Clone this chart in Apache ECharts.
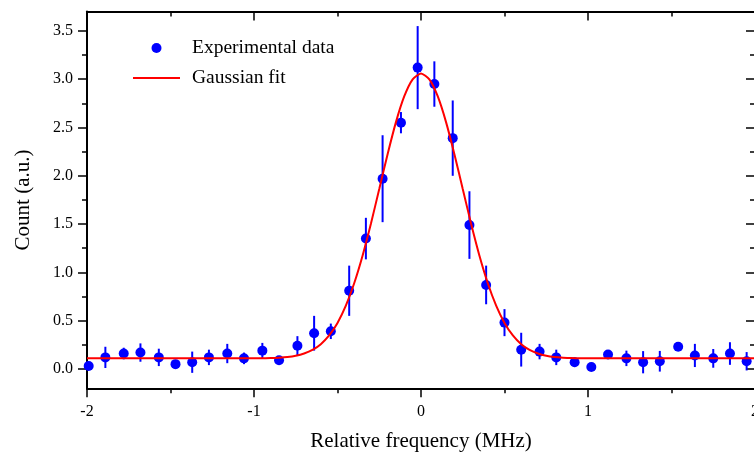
<!DOCTYPE html>
<html><head><meta charset="utf-8">
<script src="https://cdn.jsdelivr.net/npm/echarts@6/dist/echarts.min.js"></script>
<style>html,body{margin:0;padding:0;background:#fff}#c{width:754px;height:455px}</style>
</head><body><div id="c"></div>
<script>
var xData = [-1.99, -1.89, -1.78, -1.68, -1.57, -1.47, -1.37, -1.27, -1.16, -1.06, -0.95, -0.85, -0.74, -0.64, -0.54, -0.43, -0.33, -0.23, -0.12, -0.02, 0.08, 0.19, 0.29, 0.39, 0.50, 0.60, 0.71, 0.81, 0.92, 1.02, 1.12, 1.23, 1.33, 1.43, 1.54, 1.64, 1.75, 1.85, 1.95];
var yData = [0.03, 0.12, 0.16, 0.17, 0.12, 0.05, 0.07, 0.12, 0.16, 0.11, 0.19, 0.09, 0.24, 0.37, 0.39, 0.81, 1.35, 1.97, 2.55, 3.12, 2.95, 2.39, 1.49, 0.87, 0.48, 0.20, 0.18, 0.12, 0.07, 0.02, 0.15, 0.11, 0.07, 0.08, 0.23, 0.14, 0.11, 0.16, 0.08];
var yErr = [0.03, 0.11, 0.06, 0.095, 0.09, 0.045, 0.11, 0.08, 0.10, 0.06, 0.08, 0.04, 0.10, 0.18, 0.08, 0.26, 0.215, 0.45, 0.11, 0.43, 0.235, 0.39, 0.35, 0.20, 0.14, 0.175, 0.08, 0.08, 0.05, 0, 0.04, 0.08, 0.115, 0.107, 0, 0.12, 0.097, 0.117, 0.095];
var fitX = [-2.0, -1.5, -1.0, -0.9, -0.85, -0.8, -0.75, -0.7, -0.65, -0.6, -0.55, -0.5, -0.45, -0.4, -0.35, -0.3, -0.25, -0.2, -0.15, -0.1, -0.05, 0.0, 0.05, 0.1, 0.15, 0.2, 0.25, 0.3, 0.35, 0.4, 0.45, 0.5, 0.55, 0.6, 0.65, 0.7, 0.75, 0.8, 0.85, 0.9, 1.0, 1.5, 2.0];
var fitY = [0.11, 0.11, 0.11, 0.113, 0.117, 0.124, 0.137, 0.160, 0.197, 0.257, 0.347, 0.477, 0.656, 0.888, 1.173, 1.504, 1.863, 2.224, 2.556, 2.824, 2.999, 3.06, 2.999, 2.824, 2.556, 2.224, 1.863, 1.504, 1.173, 0.888, 0.656, 0.477, 0.347, 0.257, 0.197, 0.160, 0.137, 0.124, 0.117, 0.113, 0.11, 0.11, 0.11];
var xTicks = [-2, -1, 0, 1, 2];
var yMajor = [0, 0.5, 1.0, 1.5, 2.0, 2.5, 3.0, 3.5];
var yMinor = [0.25, 0.75, 1.25, 1.75, 2.25, 2.75, 3.25];
var seriesNames = ['Experimental data', 'Gaussian fit'];
var xTitle = 'Relative frequency (MHz)';
var yTitle = 'Count (a.u.)';

var FONT = '"Liberation Serif", "DejaVu Serif", serif';
var BLUE = '#0000ff', RED = '#ff0000';

var points = xData.map(function (x, i) { return [x, yData[i]]; });
var bars = xData.map(function (x, i) { return [x, yData[i], yErr[i]]; });
var fit = fitX.map(function (x, i) { return [x, fitY[i]]; });

var gridRect = { left: 87, right: -1, top: 11.6, bottom: 66.7, containLabel: false, outerBoundsMode: 'none' };
var lineSt = { color: '#000', width: 2 };
var tickSt = { color: '#000', width: 1.5 };

function xAx(pos, gi, show) {
  return {
    type: 'value', gridIndex: gi, min: -2, max: 2, interval: 1, position: pos,
    show: show,
    axisLine: { show: true, onZero: false, lineStyle: lineSt },
    axisTick: { show: true, inside: pos === 'top', length: 9, lineStyle: tickSt },
    minorTick: { show: true, splitNumber: 2, length: 5, lineStyle: tickSt },
    axisLabel: pos === 'bottom' ? {
      show: true, margin: 15, color: '#000', fontFamily: FONT, fontSize: 16,
      formatter: function (v) { return xTicks.indexOf(v) >= 0 ? String(v) : ''; }
    } : { show: false },
    splitLine: { show: false },
    name: pos === 'bottom' ? xTitle : '',
    nameLocation: 'middle', nameGap: 43,
    nameTextStyle: { color: '#000', fontFamily: FONT, fontSize: 21 }
  };
}
function yAx(pos, gi, vals, len, labels, line) {
  return {
    type: 'value', gridIndex: gi, min: -0.2, max: 3.7, position: pos,
    axisLine: { show: line, onZero: false, lineStyle: lineSt },
    axisTick: { show: true, inside: pos === 'right', length: len, customValues: vals, lineStyle: tickSt },
    minorTick: { show: false },
    axisLabel: labels ? {
      show: true, margin: 14, color: '#000', fontFamily: FONT, fontSize: 16,
      customValues: vals,
      formatter: function (v) { return v.toFixed(1); }
    } : { show: false },
    splitLine: { show: false },
    name: labels ? yTitle : '',
    nameLocation: 'middle', nameGap: 53, nameRotate: 90,
    nameTextStyle: { color: '#000', fontFamily: FONT, fontSize: 21 }
  };
}

var chart = echarts.init(document.getElementById('c'), null, { renderer: 'canvas' });
chart.setOption({
  backgroundColor: '#fff',
  animation: false,
  grid: [Object.assign({}, gridRect), Object.assign({}, gridRect)],
  xAxis: [xAx('bottom', 0, true), xAx('top', 0, true), xAx('bottom', 1, false)],
  yAxis: [
    yAx('left', 0, yMajor, 9, true, true),
    yAx('right', 0, yMajor, 9, false, true),
    yAx('left', 1, yMinor, 5, false, false),
    yAx('right', 1, yMinor, 5, false, false)
  ],
  legend: {
    orient: 'vertical', left: 133, top: 38, padding: 0,
    itemWidth: 47, itemHeight: 10, itemGap: 10,
    data: [
      { name: seriesNames[0], icon: 'circle' },
      { name: seriesNames[1], icon: 'path://M0,0 L47,0 L47,2 L0,2 Z' }
    ],
    textStyle: { color: '#000', fontFamily: FONT, fontSize: 19.5, lineHeight: 20, padding: [0, 0, 0, 7] }
  },
  series: [
    {
      type: 'custom', xAxisIndex: 0, yAxisIndex: 0, z: 2,
      encode: { x: 0, y: 1 },
      data: bars,
      renderItem: function (params, api) {
        var x = api.value(0), y = api.value(1), e = api.value(2);
        var p1 = api.coord([x, y - e]), p2 = api.coord([x, y + e]);
        return { type: 'line', shape: { x1: p1[0], y1: p1[1], x2: p2[0], y2: p2[1] },
          style: { stroke: BLUE, lineWidth: 2 } };
      }
    },
    {
      name: seriesNames[0], type: 'scatter', xAxisIndex: 0, yAxisIndex: 0, z: 3,
      symbol: 'circle', symbolSize: 10, itemStyle: { color: BLUE, opacity: 1 },
      data: points
    },
    {
      name: seriesNames[1], type: 'line', xAxisIndex: 0, yAxisIndex: 0, z: 4,
      symbol: 'none', smooth: 0.2, lineStyle: { color: RED, width: 2 }, itemStyle: { color: RED },
      data: fit
    }
  ]
});
</script></body></html>
